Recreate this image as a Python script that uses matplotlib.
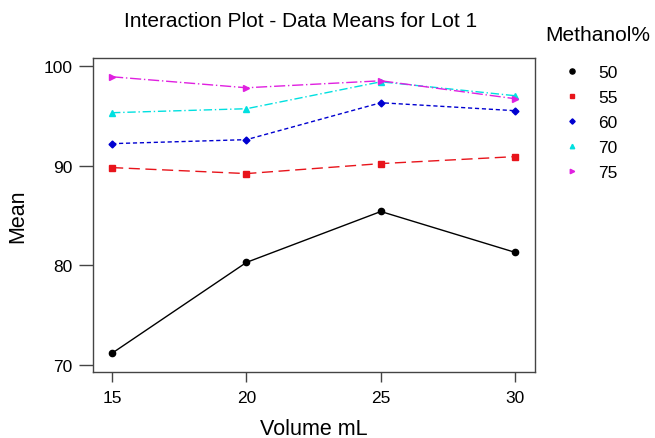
import matplotlib
matplotlib.use("Agg")
import matplotlib.pyplot as plt
from matplotlib.lines import Line2D

plt.rcParams['font.family'] = ['Liberation Sans', 'DejaVu Sans']

volume = [15, 20, 25, 30]
groups = ['50', '55', '60', '70', '75']
m50 = [71.2, 80.3, 85.4, 81.3]
m55 = [89.8, 89.2, 90.2, 90.9]
m60 = [92.2, 92.6, 96.3, 95.5]
m70 = [95.3, 95.7, 98.4, 97.0]
m75 = [98.9, 97.8, 98.5, 96.7]

series = [m50, m55, m60, m70, m75]
colors = ['black', '#e8141b', '#0000d0', '#00e0e0', '#e020e0']
markers = ['o', 's', 'D', '^', '>']
msizes = [4.5, 4, 3.5, 4, 4]
styles = ['-', (0, (8, 4)), (0, (3, 2)), (0, (6, 2, 1, 2)), (0, (8, 2, 1, 2))]

fig = plt.figure(figsize=(6.55, 4.39), dpi=100)
ax = fig.add_axes([0.142, 0.150, 0.675, 0.716])

handles = []
for vals, c, m, ms, ls in zip(series, colors, markers, msizes, styles):
    ax.plot(volume, vals, color=c, marker=m, markersize=ms, linestyle=ls, linewidth=1.0)
    handles.append(Line2D([], [], color=c, marker=m, markersize=ms - 0.8, linestyle='none'))

ax.set_xlim(14.29, 30.74)
ax.set_ylim(69.3, 100.8)
ax.set_xticks(volume)
ax.set_yticks([70, 80, 90, 100])
ax.tick_params(direction='out', width=1, labelsize=12.5, color='#444444')
ax.tick_params(axis='x', length=7.5, pad=5.5)
ax.tick_params(axis='y', length=10, pad=4.5)
for s in ax.spines.values():
    s.set_color('#444444')
    s.set_linewidth(1)

ax.set_xlabel('Volume mL', fontsize=15.5, labelpad=9)
ax.set_ylabel('Mean', fontsize=15.5, labelpad=11)
fig.text(0.4595, 0.952, 'Interaction Plot - Data Means for Lot 1', fontsize=15,
         ha='center', va='center')

fig.text(0.913, 0.920, 'Methanol%', fontsize=15, ha='center', va='center')
leg = fig.legend(handles, groups, loc='upper left',
                 bbox_to_anchor=(0.860, 0.849), frameon=False, fontsize=12.5,
                 handlelength=1.0, handletextpad=1.0, labelspacing=0.56,
                 borderpad=0, borderaxespad=0)

fig.savefig('out.png', dpi=100)
